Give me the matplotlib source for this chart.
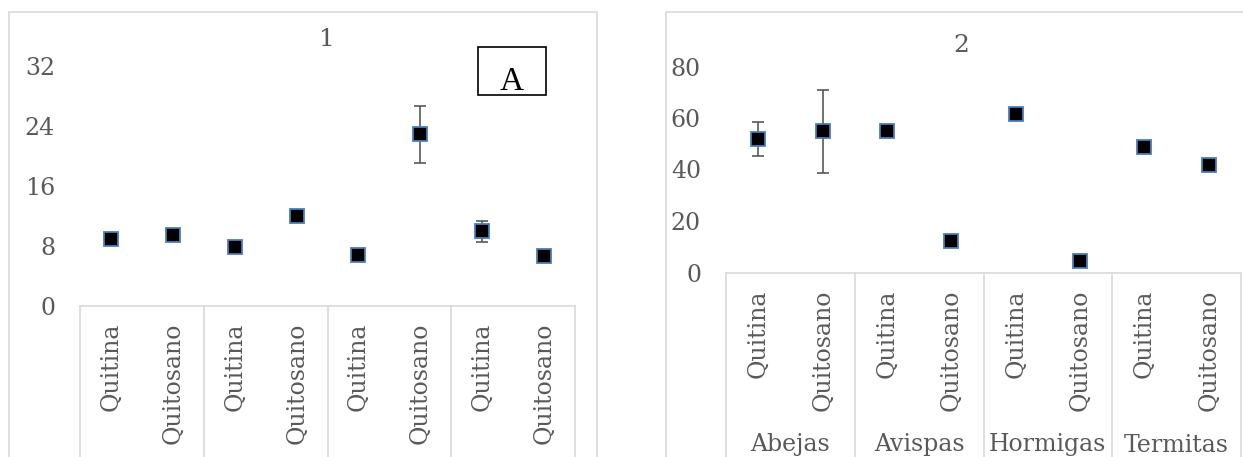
import matplotlib
matplotlib.use("Agg")
import matplotlib.pyplot as plt
from matplotlib.patches import Rectangle
from matplotlib.lines import Line2D

# ---------------- data ----------------
categories = ["Quitina", "Quitosano", "Quitina", "Quitosano",
              "Quitina", "Quitosano", "Quitina", "Quitosano"]
groups2 = ["Abejas", "Avispas", "Hormigas", "Termitas"]

values1 = [8.9, 9.5, 7.9, 12.0, 6.8, 22.9, 10.0, 6.7]
errors1 = [0, 0, 0, 0, 0, 3.8, 1.4, 0]
yticks1 = [0, 8, 16, 24, 32]

values2 = [51.9, 54.8, 55.0, 12.2, 61.7, 4.4, 48.7, 41.7]
errors2 = [6.5, 16.0, 0, 0, 0, 0, 0, 0]
yticks2 = [0, 20, 40, 60, 80]

# ---------------- style ----------------
W, H, DPI = 1243, 457, 100
GRAY = "#595959"
LIGHT = "#d9d9d9"
EDGE = "#4a7ebb"
FONT = "DejaVu Serif"
plt.rcParams["font.family"] = [FONT, "DejaVu Sans"]

fig = plt.figure(figsize=(W / DPI, H / DPI), dpi=DPI)
fig.patch.set_facecolor("white")


def fx(px):
    return px / W


def fy(py):
    return 1 - py / H


def make_axes(x0, x1, y_zero, y_top, ymax, yticks, values, errors, xpad_px):
    ax = fig.add_axes([fx(x0), fy(y_zero), (x1 - x0) / W, (y_zero - y_top) / H])
    n = len(values)
    xs = list(range(n))
    ax.set_xlim(-0.5, n - 0.5)
    ax.set_ylim(0, ymax)
    # error bars (only where an error exists)
    ex = [x for x, e in zip(xs, errors) if e > 0]
    ev = [v for v, e in zip(values, errors) if e > 0]
    ee = [e for e in errors if e > 0]
    if ex:
        ax.errorbar(ex, ev, yerr=ee, fmt="none", ecolor=GRAY, elinewidth=1.2,
                    capsize=4.3, capthick=1.2, zorder=2, clip_on=False)
    ax.plot(xs, values, linestyle="none", marker="s", markersize=9.5,
            markerfacecolor="black", markeredgecolor=EDGE,
            markeredgewidth=1.3, zorder=3, clip_on=False)
    # axes styling
    for s in ["top", "right", "left"]:
        ax.spines[s].set_visible(False)
    ax.spines["bottom"].set_color(LIGHT)
    ax.spines["bottom"].set_linewidth(1.2)
    ax.set_yticks(yticks)
    ax.set_yticklabels([str(t) for t in yticks])
    ax.tick_params(axis="y", length=0, pad=18, labelsize=17, labelcolor=GRAY)
    ax.set_xticks(xs)
    ax.set_xticklabels(categories, rotation=90)
    ax.tick_params(axis="x", length=0, pad=xpad_px * 72 / DPI, labelsize=17,
                   labelcolor=GRAY)
    ax.set_facecolor("none")
    # category group separators extending below axis
    h = y_zero - y_top
    ybot = (y_zero - 480) / h
    for xb in [-0.5, 1.5, 3.5, 5.5, 7.5]:
        ax.add_line(Line2D([xb, xb], [0, ybot], transform=ax.get_xaxis_transform(),
                           color=LIGHT, linewidth=1.2, clip_on=False))
    return ax


# panel borders
fig.add_artist(Rectangle((fx(9), -0.1), (597 - 9) / W, fy(12) + 0.1,
                         transform=fig.transFigure, facecolor="none",
                         edgecolor=LIGHT, linewidth=1.2))
fig.add_artist(Rectangle((fx(666), -0.1), 0.6, fy(12) + 0.1,
                         transform=fig.transFigure, facecolor="none",
                         edgecolor=LIGHT, linewidth=1.2))

# chart 1
ax1 = make_axes(80, 575, 306, 36, 36, yticks1, values1, errors1, 17)
fig.text(fx(327), fy(39), "1", ha="center", va="center", fontsize=18, color=GRAY)

# "A" label box
fig.add_artist(Rectangle((fx(478), fy(95)), 68 / W, 48 / H, transform=fig.transFigure,
                         facecolor="none", edgecolor="black", linewidth=1.2))
fig.text(fx(512), fy(90), "A", ha="center", va="baseline", fontsize=24,
         color="black", family="Liberation Serif")

# chart 2
ax2 = make_axes(726, 1241, 272.5, 40.75, 90, yticks2, values2, errors2, 17)
fig.text(fx(961), fy(46), "2", ha="center", va="center", fontsize=18, color=GRAY)

# group labels chart 2
h2 = 272.5 - 40.75
for i, g in enumerate(groups2):
    ax2.text(2 * i + 0.5, (272.5 - 445) / h2, g, transform=ax2.get_xaxis_transform(),
             ha="center", va="center", fontsize=17, color=GRAY, clip_on=False)

fig.savefig("out.png", dpi=DPI, facecolor="white")
